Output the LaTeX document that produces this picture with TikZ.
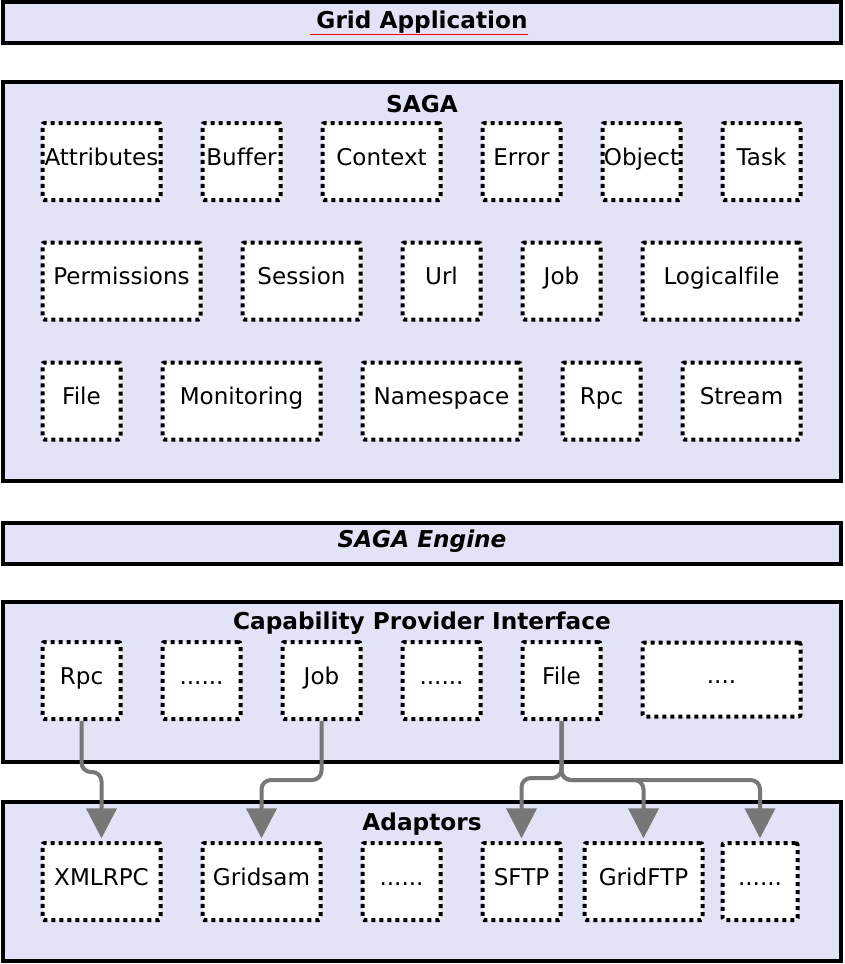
\documentclass[tikz,border=0pt]{standalone}
\usepackage{fontspec}
\setmainfont{DejaVu Sans}[Ligatures=NoCommon]
\usetikzlibrary{arrows.meta,calc}
\definecolor{LayerFill}{HTML}{E3E3F7}
\definecolor{LinkGray}{HTML}{777777}
\definecolor{SpellRed}{HTML}{FF0000}
\newcommand{\moredots}{......}

\begin{document}
\begin{tikzpicture}[x=0.75pt,y=-0.75pt,
    layer/.style={draw=black,line width=3pt,fill=LayerFill,minimum width=628.5pt,inner sep=0pt},
    title/.style={anchor=base,inner sep=0pt,font=\fontsize{17.4}{20}\selectfont\bfseries},
    part/.style={draw=black,line width=3pt,dash pattern=on 3pt off 3pt,fill=white,rounded corners=1.5pt,
      minimum height=57.75pt,inner sep=0pt,text height=12pt,text depth=6.75pt,
      font=\fontsize{17.3}{19}\selectfont},
    link/.style={draw=LinkGray,line width=3pt,rounded corners=7pt,shorten >=2pt,
      -{Triangle[length=22.5pt,width=22.5pt]}}]
  \useasboundingbox (0,0) rectangle (844,964);

  % layers
  \node[layer,minimum height=30.4pt] (app) at (422,22.75) {};
  \node[layer,minimum height=299.25pt] (saga) at (422,281.5) {};
  \node[layer,minimum height=30.75pt] (engine) at (422,543) {};
  \node[layer,minimum height=120pt] (cpi) at (422,682) {};
  \node[layer,minimum height=119.25pt] (adaptors) at (422,881.5) {};

  \node[title] (apptitle) at (422,28.5) {Grid Application};
  \draw[SpellRed,line width=0.75pt] ([xshift=-5pt,yshift=-4.3pt]apptitle.base west) -- ([yshift=-4.3pt]apptitle.base east);
  \node[title] (sagatitle) at (422,112.5) {SAGA};
  \node[title,font=\fontsize{17.4}{20}\selectfont\bfseries\itshape] (enginetitle) at (422,547.5) {SAGA Engine};
  \node[title] (cpititle) at (422,629) {Capability Provider Interface};
  \node[title] (adaptorstitle) at (422,830) {Adaptors};

  % SAGA packages
  \foreach \n/\x/\y/\w/\t in {attr/101.5/161.5/88.5/Attributes,buf/241.5/161.5/58.5/Buffer,
      ctx/381.5/161.5/88.5/Context,err/521.5/161.5/58.5/Error,obj/641.5/161.5/58.5/Object,
      task/761.5/161.5/58.5/Task,
      perm/121.5/281/118.5/Permissions,sess/301.5/281/88.5/Session,url/441.5/281/58.5/Url,
      job/561.5/281/58.5/Job,lfile/721.5/281/118.5/Logicalfile,
      file/81.5/401/58.5/File,mon/241.5/401/118.5/Monitoring,ns/441.5/401/118.5/Namespace,
      rpc/601.5/401/58.5/Rpc,stream/741.5/401/88.5/Stream} {
    \node[part,minimum width=\w pt] (\n) at (\x,\y) {\t};
  }

  % capability provider interface
  \foreach \n/\x/\t in {crpc/81.5/Rpc,cmorea/201.5/\moredots,cjob/321.5/Job,cmoreb/441.5/\moredots,cfile/561.5/File} {
    \node[part,minimum width=58.5pt] (\n) at (\x,680.5) {\t};
  }
  \node[part,minimum width=118.5pt,minimum height=55.5pt] (cmorec) at (721.5,679.5) {....};

  % adaptors
  \foreach \n/\x/\w/\t in {axml/101.5/88.5/XMLRPC,agridsam/261.5/88.5/Gridsam,amorea/401.5/58.5/\moredots,
      asftp/521.5/58.5/SFTP,agridftp/643.5/88.5/GridFTP,amoreb/760/56.25/\moredots} {
    \node[part,minimum width=\w pt] (\n) at (\x,881.5) {\t};
  }

  % bindings
  \draw[link] (crpc.south) |- ($(axml.north)+(0,-69)$) -- (axml.north);
  \draw[link] (cjob.south) |- ($(agridsam.north)+(0,-61)$) -- (agridsam.north);
  \draw[link] (cfile.south) |- ($(asftp.north)+(0,-63)$) -- (asftp.north);
  \draw[link] (cfile.south) |- ($(agridftp.north)+(0,-61)$) -- (agridftp.north);
  \draw[link] (cfile.south) |- ($(amoreb.north)+(0,-61)$) -- (amoreb.north);
\end{tikzpicture}
\end{document}
